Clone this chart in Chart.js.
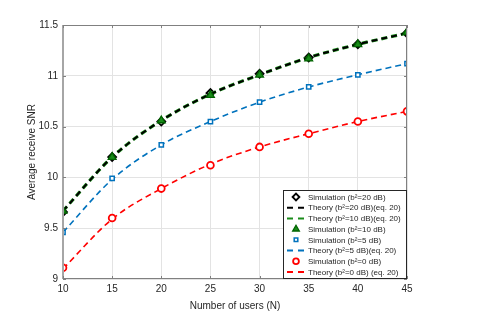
<!DOCTYPE html>
<html>
<head>
<meta charset="utf-8">
<script src="https://cdn.jsdelivr.net/npm/chart.js@4/dist/chart.umd.min.js"></script>
<style>
  html, body { margin: 0; padding: 0; background: #fff; }
  #wrap { width: 485px; height: 315px; }
</style>
</head>
<body>
<div id="wrap"><canvas id="snr"></canvas></div>
<script>
// number of users N
const users = [10, 15, 20, 25, 30, 35, 40, 45];
const xTicks = [10, 15, 20, 25, 30, 35, 40, 45];
const yTicks = [9, 9.5, 10, 10.5, 11, 11.5];

// average receive SNR
const sim20  = [9.66, 10.20, 10.55, 10.83, 11.02, 11.18, 11.31, 11.42];
const theo20 = [9.67, 10.20, 10.56, 10.82, 11.01, 11.18, 11.31, 11.42];
const theo10 = [9.67, 10.20, 10.56, 10.82, 11.01, 11.18, 11.31, 11.42];
const sim10  = [9.67, 10.20, 10.56, 10.81, 11.01, 11.17, 11.31, 11.43];
const sim5   = [9.46, 9.99, 10.32, 10.55, 10.74, 10.89, 11.01, 11.12];
const theo5  = [9.46, 9.98, 10.32, 10.55, 10.74, 10.89, 11.01, 11.12];
const sim0   = [9.11, 9.60, 9.89, 10.12, 10.30, 10.43, 10.55, 10.65];
const theo0  = [9.10, 9.59, 9.89, 10.13, 10.30, 10.43, 10.55, 10.65];

const FONT = "'Liberation Sans', Arial, sans-serif";
const TXT = '#262626';
const pts = arr => arr.map((v, i) => ({ x: users[i], y: v }));

function sim(label, data, color, style, radius, fill, bw, order) {
  return { label, data: pts(data), showLine: false, borderColor: color,
    backgroundColor: fill, pointStyle: style, pointRadius: radius,
    pointBorderWidth: bw, pointHoverRadius: radius, order, kind: 'sim' };
}
function theo(label, data, color, width, order) {
  return { label, data: pts(data), borderColor: color, backgroundColor: color,
    borderWidth: width, borderDash: [6, 4], pointRadius: 0,
    cubicInterpolationMode: 'monotone', order, kind: 'theo' };
}

const datasets = [
  sim('Simulation (b²=20 dB)', sim20, '#000000', 'rectRot', 4, 'rgba(0,0,0,0)', 1.8, 6),
  theo('Theory (b²=20 dB)(eq. 20)', theo20, '#000000', 2, 3),
  theo('Theory (b²=10 dB)(eq. 20)', theo10, '#1a8c1a', 3.2, 4),
  sim('Simulation (b²=10 dB)', sim10, '#006400', 'triangle', 4.5, '#1a8c1a', 1.3, 2),
  sim('Simulation (b²=5 dB)', sim5, '#0072BD', 'rect', 3, '#ffffff', 1.5, 1),
  theo('Theory (b²=5 dB)(eq. 20)', theo5, '#0072BD', 1.6, 5),
  sim('Simulation (b²=0 dB)', sim0, '#ff0000', 'circle', 3.4, '#ffffff', 1.8, 1),
  theo('Theory (b²=0 dB) (eq. 20)', theo0, '#ff0000', 1.6, 5)
];

// box, inward ticks and the legend inside the axes
const matlabBox = {
  id: 'matlabBox',
  afterDatasetsDraw(chart) {
    const { ctx, chartArea: a, scales } = chart;
    ctx.save();
    ctx.strokeStyle = '#808080';
    ctx.lineWidth = 1;
    ctx.strokeRect(a.left + 0.5, a.top + 0.5, a.right - a.left - 1, a.bottom - a.top - 1);
    // left axis drawn heavier, as in the figure
    ctx.strokeStyle = '#a6a6a6';
    ctx.lineWidth = 2;
    ctx.beginPath();
    ctx.moveTo(a.left, a.top); ctx.lineTo(a.left, a.bottom);
    ctx.stroke();
    ctx.strokeStyle = '#808080';
    ctx.lineWidth = 1;
    ctx.beginPath();
    xTicks.forEach(t => {
      const px = Math.round(scales.x.getPixelForValue(t)) + 0.5;
      ctx.moveTo(px, a.bottom); ctx.lineTo(px, a.bottom - 3);
      ctx.moveTo(px, a.top); ctx.lineTo(px, a.top + 3);
    });
    yTicks.forEach(t => {
      const py = Math.round(scales.y.getPixelForValue(t)) + 0.5;
      ctx.moveTo(a.left, py); ctx.lineTo(a.left + 3, py);
      ctx.moveTo(a.right, py); ctx.lineTo(a.right - 3, py);
    });
    ctx.stroke();

    // legend
    const w = 124, rowH = 10.7, h = 89;
    const x0 = a.right - w, y0 = a.bottom - h;
    ctx.fillStyle = '#fff';
    ctx.fillRect(x0, y0, w, h);
    ctx.strokeStyle = '#262626';
    ctx.strokeRect(x0 + 0.5, y0 + 0.5, w - 1, h - 1);
    ctx.font = '8px ' + FONT;
    ctx.textBaseline = 'middle';
    chart.data.datasets.forEach((ds, i) => {
      const cy = y0 + 7 + rowH * i;
      const cx = x0 + 13;
      if (ds.kind === 'theo') {
        ctx.strokeStyle = ds.borderColor;
        ctx.lineWidth = 2;
        ctx.setLineDash([6, 5]);
        ctx.beginPath();
        ctx.moveTo(cx - 9, cy); ctx.lineTo(cx + 8, cy);
        ctx.stroke();
        ctx.setLineDash([]);
      } else {
        ctx.lineWidth = ds.pointBorderWidth;
        ctx.strokeStyle = ds.borderColor;
        ctx.fillStyle = ds.backgroundColor;
        Chart.helpers.drawPoint(ctx, { pointStyle: ds.pointStyle, radius: ds.pointRadius * 0.85, borderWidth: ds.pointBorderWidth }, cx, cy);
      }
      ctx.fillStyle = TXT;
      ctx.fillText(ds.label, x0 + 25, cy + 0.5);
    });
    ctx.restore();
  }
};

new Chart(document.getElementById('snr'), {
  type: 'line',
  data: { datasets },
  options: {
    responsive: true,
    maintainAspectRatio: false,
    animation: false,
    layout: { padding: { left: 26, right: 78, top: 25, bottom: 0 } },
    plugins: { legend: { display: false }, tooltip: { enabled: false } },
    scales: {
      x: {
        type: 'linear', min: 10, max: 45,
        afterBuildTicks: s => { s.ticks = xTicks.map(v => ({ value: v })); },
        afterFit: s => { s.height = 36; },
        grid: { color: '#e3e3e3', drawTicks: false },
        border: { display: false },
        ticks: { color: TXT, font: { family: FONT, size: 10 }, padding: 4, maxRotation: 0 },
        title: { display: true, text: 'Number of users (N)', color: TXT,
          font: { family: FONT, size: 10 }, padding: { top: 0, bottom: 3 } }
      },
      y: {
        type: 'linear', min: 9, max: 11.5,
        afterBuildTicks: s => { s.ticks = yTicks.map(v => ({ value: v })); },
        afterFit: s => { s.width = 37; },
        grid: { color: '#e3e3e3', drawTicks: false },
        border: { display: false },
        ticks: { color: TXT, font: { family: FONT, size: 10 }, padding: 5,
          callback: v => String(v) },
        title: { display: true, text: 'Average receive SNR', color: TXT,
          font: { family: FONT, size: 10 }, padding: { top: 0, bottom: 0 } }
      }
    }
  },
  plugins: [matlabBox]
});
</script>
</body>
</html>
